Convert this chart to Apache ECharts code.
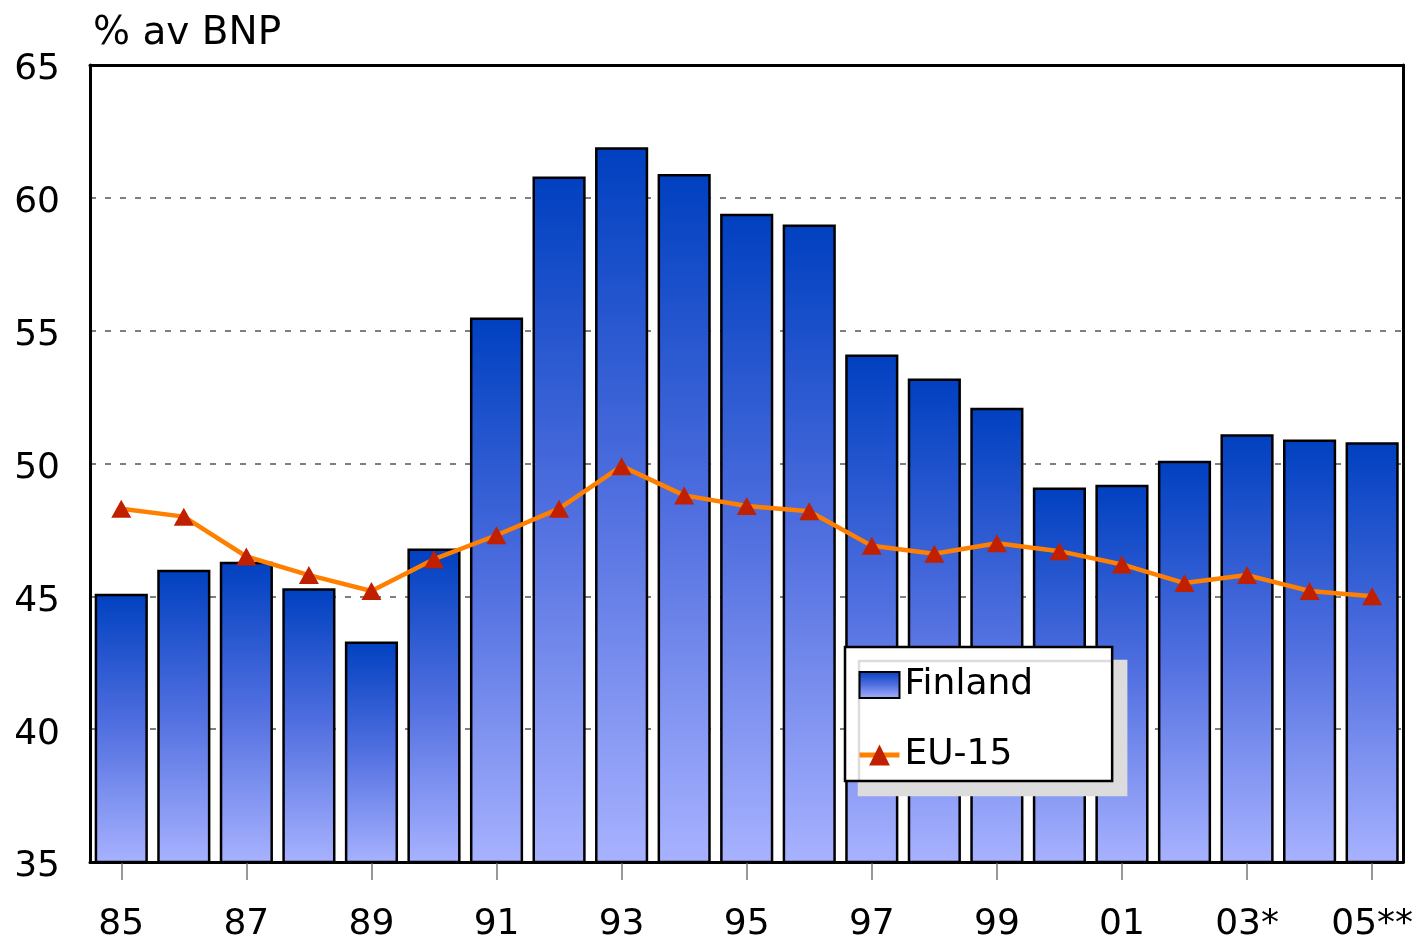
<!DOCTYPE html>
<html>
<head>
<meta charset="utf-8">
<script src="https://cdn.jsdelivr.net/npm/echarts@6/dist/echarts.min.js"></script>
<style>
  html, body { margin: 0; padding: 0; background: #fff; }
  #chart { width: 1416px; height: 943px; }
</style>
</head>
<body>
<div id="chart"></div>
<script>
// Years (two-digit), tick labels shown on every other year
const years = ['85','86','87','88','89','90','91','92','93','94','95','96','97','98','99','00','01','02','03*','04','05**'];

// Public expenditure as % of GDP
const finland = [45.1, 46.0, 46.3, 45.3, 43.3, 46.8, 55.5, 60.8, 61.9, 60.9, 59.4, 59.0, 54.1, 53.2, 52.1, 49.1, 49.2, 50.1, 51.1, 50.9, 50.8];
const eu15 = [48.3, 48.0, 46.5, 45.8, 45.2, 46.4, 47.3, 48.3, 49.9, 48.8, 48.4, 48.2, 46.9, 46.6, 47.0, 46.7, 46.2, 45.5, 45.8, 45.2, 45.0];

const yMin = 35, yMax = 65, yStep = 5;

const font = '"DejaVu Sans", "Liberation Sans", Arial, sans-serif';
const chart = echarts.init(document.getElementById('chart'));

const barFill = new echarts.graphic.LinearGradient(0, 0, 0, 1, [
  { offset: 0, color: '#0040c0' },
  { offset: 0.5, color: '#5270e0' },
  { offset: 1, color: '#a8b2ff' }
]);

chart.setOption({
  animation: false,
  backgroundColor: '#fff',
  textStyle: { fontFamily: font, color: '#000' },
  title: {
    text: '% av BNP',
    left: 88, top: 9,
    textStyle: { fontFamily: font, fontSize: 39, fontWeight: 'normal', color: '#000' }
  },
  grid: { left: 90, right: 11, top: 65, bottom: 81 },
  legend: {
    orient: 'vertical',
    left: 845, top: 647,
    padding: [18, 79, 6, 12],
    itemGap: 30,
    itemWidth: 40, itemHeight: 26,
    backgroundColor: '#fff',
    borderColor: '#000', borderWidth: 2.5,
    shadowColor: '#dcdcdc', shadowBlur: 0, shadowOffsetX: 14, shadowOffsetY: 14,
    textStyle: { fontFamily: font, fontSize: 36, color: '#000', lineHeight: 40 },
    data: [
      { name: 'Finland', icon: 'rect', itemStyle: { borderColor: '#000', borderWidth: 2 } },
      { name: 'EU-15', lineStyle: { color: '#ff8000', width: 5 } }
    ]
  },
  xAxis: [
    {
      type: 'category',
      data: years,
      boundaryGap: true,
      axisLine: { show: true, lineStyle: { color: '#000', width: 3 } },
      axisTick: {
        show: true, alignWithLabel: true, interval: 1, length: 18,
        lineStyle: { color: '#777', width: 1.5 }
      },
      axisLabel: { interval: 1, fontSize: 36, color: '#000', margin: 45, fontFamily: font }
    },
    {
      // top frame edge
      type: 'category',
      data: years,
      position: 'top',
      z: 3,
      axisLine: { show: true, lineStyle: { color: '#000', width: 3 } },
      axisTick: { show: false },
      axisLabel: { show: false }
    }
  ],
  yAxis: [
    {
      type: 'value',
      min: yMin, max: yMax, interval: yStep,
      axisLine: { show: true, lineStyle: { color: '#000', width: 3 } },
      axisTick: { show: false },
      axisLabel: {
        fontSize: 36, color: '#000', margin: 30, fontFamily: font,
        verticalAlign: 'top', lineHeight: 10
      },
      splitLine: { show: true, lineStyle: { color: '#555', width: 1.5, type: [6, 9] } }
    },
    {
      // right frame edge
      type: 'value',
      min: yMin, max: yMax, interval: yStep,
      position: 'right',
      z: 3,
      axisLine: { show: true, lineStyle: { color: '#000', width: 3 } },
      axisTick: { show: false },
      axisLabel: { show: false },
      splitLine: { show: false }
    }
  ],
  series: [
    {
      name: 'Finland',
      type: 'bar',
      data: finland,
      barWidth: '85%',
      itemStyle: { color: barFill, borderColor: '#000', borderWidth: 2.5 }
    },
    {
      name: 'EU-15',
      type: 'line',
      data: eu15,
      z: 5,
      lineStyle: { color: '#ff8000', width: 4.5 },
      symbol: 'triangle',
      symbolSize: [20, 18],
      itemStyle: { color: '#c02000' }
    }
  ]
});
</script>
</body>
</html>
